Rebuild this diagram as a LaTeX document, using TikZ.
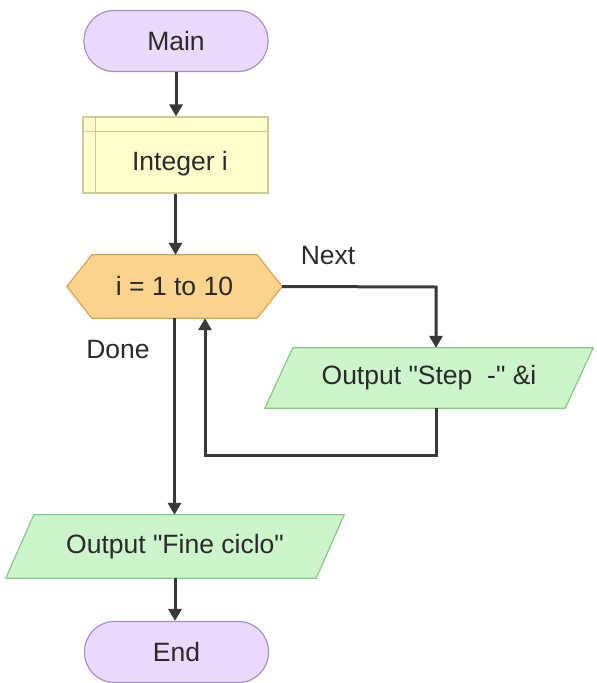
\documentclass[tikz,border=0pt]{standalone}
\usepackage{fontspec}
\setmainfont{Liberation Sans}[Ligatures=TeXOff]
\usetikzlibrary{arrows.meta,backgrounds}
\definecolor{termfill}{HTML}{EAD9FA}
\definecolor{termdraw}{HTML}{A890C8}
\definecolor{declfill}{HTML}{FFFFCC}
\definecolor{decldraw}{HTML}{CCCC99}
\definecolor{loopfill}{HTML}{FAD48C}
\definecolor{loopdraw}{HTML}{D9A650}
\definecolor{iofill}{HTML}{CCF5CC}
\definecolor{iodraw}{HTML}{88C888}
\definecolor{linecol}{HTML}{383838}
\definecolor{txtcol}{HTML}{2A2A2A}
\begin{document}
\begin{tikzpicture}[x=1pt,y=-1pt,
  every node/.style={font=\fontsize{26.5}{30}\selectfont, text=txtcol, inner sep=0pt},
  term/.style={draw=termdraw, fill=termfill, line width=1.2pt, rounded corners=30pt, minimum width=184pt, minimum height=61pt},
  box/.style={minimum width=#1, minimum height=62pt},
  shapeline/.style={line width=1.2pt},
  arr/.style={draw=linecol, line width=3pt, -{Triangle[length=12pt,width=13pt]}}]
\useasboundingbox (0,0) rectangle (597,683);

\node[term] (main) at (176,41) {Main};

\node[draw=decldraw, fill=declfill, shapeline, minimum width=185pt, minimum height=76pt] (decl) at (175.5,155) {};
\draw[draw=decldraw, shapeline] ([yshift=-15pt]decl.north west) -- ([yshift=-15pt]decl.north east);
\draw[draw=decldraw, shapeline] ([xshift=13pt]decl.north west) -- ([xshift=13pt]decl.south west);
\node (declt) at (180,164) {Integer i};

\node[box=215pt, minimum height=63pt] (loop) at (174.5,286.5) {i = 1 to 10};
\node[box=300pt, minimum height=60pt] (step) at (429,378) {Output "Step\ \ -" \&i};
\node[box=310pt, minimum height=63pt] (fine) at (175,546.5) {Output "Fine ciclo"};
\node[term] (end) at (176.5,652) {End};

\begin{scope}[on background layer]
\filldraw[fill=loopfill, draw=loopdraw, shapeline]
  (loop.west) -- ([xshift=25pt]loop.north west) -- ([xshift=-25pt]loop.north east) -- (loop.east)
  -- ([xshift=-25pt]loop.south east) -- ([xshift=25pt]loop.south west) -- cycle;
\filldraw[fill=iofill, draw=iodraw, shapeline]
  ([xshift=14pt]step.north west) -- ([xshift=14pt]step.north east)
  -- ([xshift=-14pt]step.south east) -- ([xshift=-14pt]step.south west) -- cycle;
\filldraw[fill=iofill, draw=iodraw, shapeline]
  ([xshift=14pt]fine.north west) -- ([xshift=14pt]fine.north east)
  -- ([xshift=-14pt]fine.south east) -- ([xshift=-14pt]fine.south west) -- cycle;
\end{scope}

\node (nextl) at (328,256) {Next};
\node (donel) at (118,350) {Done};

\coordinate (c1) at (436,287);
\coordinate (c2) at (436,455);
\coordinate (c3) at (205,455);

\draw[arr] (main.south) -- (main.south |- decl.north);
\draw[arr] (decl.south) -- (decl.south |- loop.north);
\draw[arr] (loop.east) -- (c1) -- (c1 |- step.north);
\draw[arr] (c1 |- step.south) -- (c2) -- (c3) -- (c3 |- loop.south);
\draw[arr] (loop.south) -- (loop.south |- fine.north);
\draw[arr] (fine.south) -- (fine.south |- end.north);
\end{tikzpicture}
\end{document}
